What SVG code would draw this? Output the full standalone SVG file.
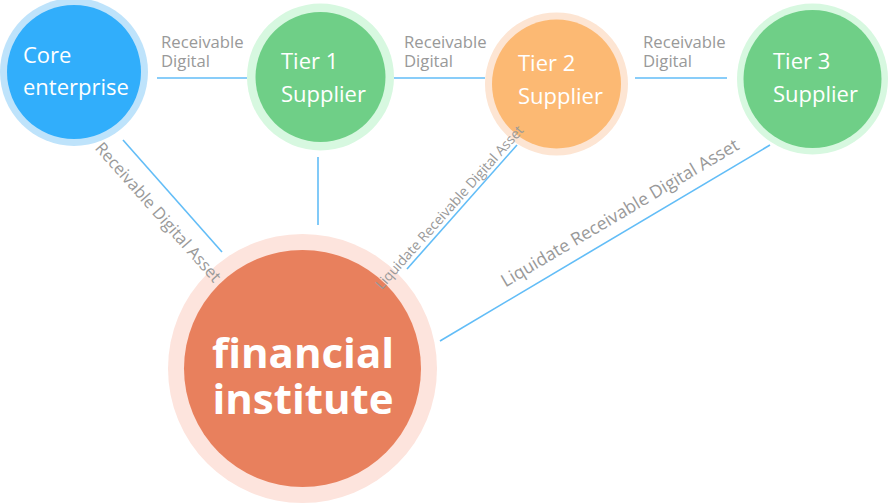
<svg xmlns="http://www.w3.org/2000/svg" width="889" height="503" viewBox="0 0 889 503">
<style>
.conn{stroke:#62bdf7;stroke-width:1.6;fill:none}
.lbl{font-family:"Open Sans","Liberation Sans",sans-serif;fill:#999999}
.hl{font-size:16.7px}
.node{font-family:"Open Sans","Liberation Sans",sans-serif;fill:#ffffff;font-size:22px}
.big{font-family:"Open Sans","Liberation Sans",sans-serif;fill:#ffffff;font-size:42px;font-weight:bold;text-anchor:middle}
</style>
<rect width="889" height="503" fill="#ffffff"/>
<g id="core">
<circle cx="74" cy="72" r="74" fill="#bee3fb"/>
<circle cx="74" cy="72" r="67" fill="#31aefb"/>
<text class="node" x="23" y="63">Core</text>
<text class="node" x="23" y="95">enterprise</text>
</g>
<g id="tier1">
<circle cx="320.5" cy="77" r="73.5" fill="#d7f8e0"/>
<circle cx="320.5" cy="77" r="65" fill="#6fcf87"/>
<text class="node" x="281" y="69">Tier 1</text>
<text class="node" x="281" y="102">Supplier</text>
</g>
<g id="tier2">
<circle cx="556.5" cy="84" r="71.5" fill="#fde5d3"/>
<circle cx="556.5" cy="84" r="64.5" fill="#fcb973"/>
<text class="node" x="518" y="71">Tier 2</text>
<text class="node" x="518" y="104">Supplier</text>
</g>
<g id="tier3">
<circle cx="812.5" cy="79" r="75.5" fill="#d7f8e0"/>
<circle cx="812.5" cy="79" r="69" fill="#6fcf87"/>
<text class="node" x="773" y="69">Tier 3</text>
<text class="node" x="773" y="102">Supplier</text>
</g>
<g id="financial">
<circle cx="302.5" cy="368.5" r="134.5" fill="#fde4dd"/>
<circle cx="302.5" cy="368.5" r="118.5" fill="#e8805d"/>
<text class="big" x="303" y="368">financial</text>
<text class="big" x="303" y="414">institute</text>
</g>
<g id="connectors">
<line class="conn" x1="157" y1="78" x2="247" y2="78"/>
<line class="conn" x1="394" y1="78" x2="485" y2="78"/>
<line class="conn" x1="635" y1="78" x2="727" y2="78"/>
<line class="conn" x1="123" y1="140" x2="222" y2="252"/>
<line class="conn" x1="318" y1="157" x2="318" y2="225"/>
<line class="conn" x1="517" y1="145" x2="407" y2="269"/>
<line class="conn" x1="770" y1="145" x2="440" y2="341"/>
<text class="lbl hl" x="161" y="48">Receivable</text>
<text class="lbl hl" x="161" y="67">Digital</text>
<text class="lbl hl" x="404" y="48">Receivable</text>
<text class="lbl hl" x="404" y="67">Digital</text>
<text class="lbl hl" x="643" y="48">Receivable</text>
<text class="lbl hl" x="643" y="67">Digital</text>
<text class="lbl" font-size="16.5" text-anchor="middle" transform="translate(154,216) rotate(48.5)">Receivable Digital Asset</text>
<text class="lbl" font-size="13.8" text-anchor="middle" transform="translate(453,210.5) rotate(-48.2)">Liquidate Receivable Digital Asset</text>
<text class="lbl" font-size="17.6" text-anchor="middle" transform="translate(623,218) rotate(-30.6)">Liquidate Receivable Digital Asset</text>
</g>
</svg>
